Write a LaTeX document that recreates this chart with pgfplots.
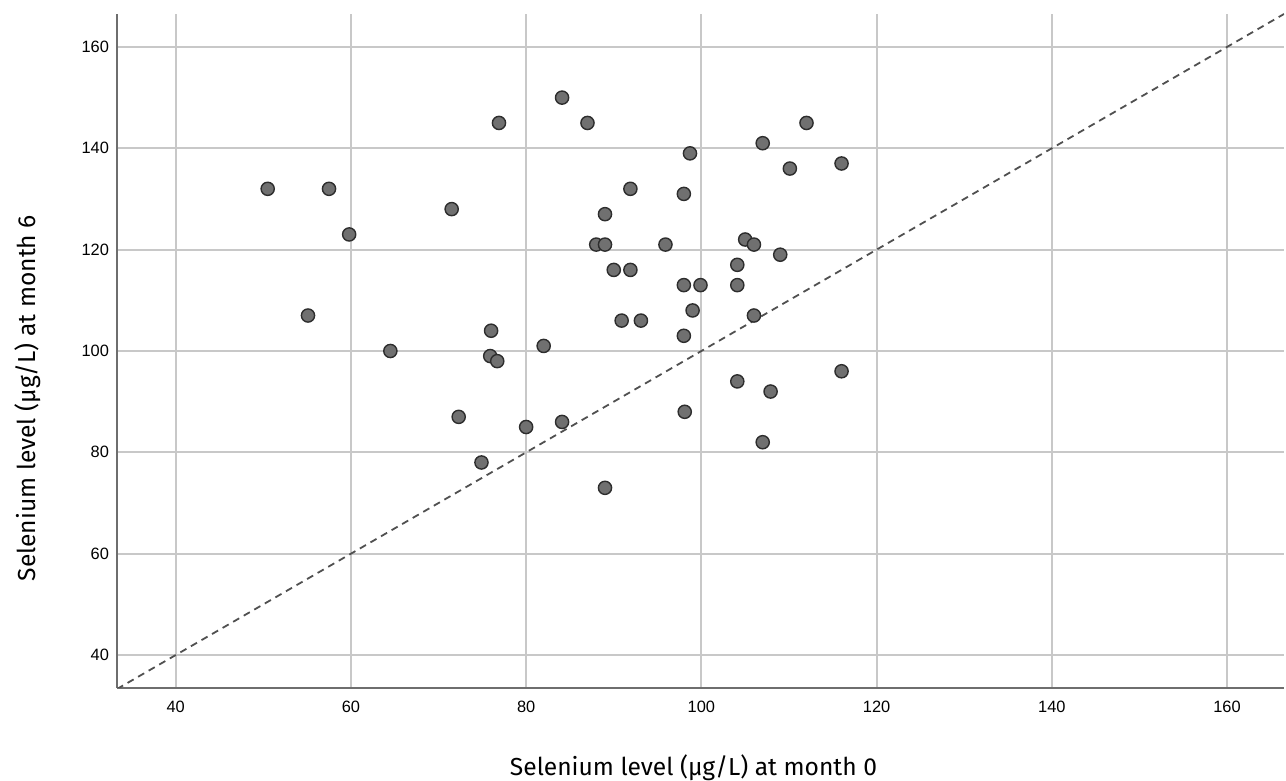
\documentclass[border=0pt]{standalone}
\usepackage{fontspec}
\setmainfont{Liberation Sans}
\newfontfamily\labelfont{Fira Sans}
\usepackage{pgfplots}
\pgfplotsset{compat=1.18}
\definecolor{gridgray}{RGB}{200,200,200}
\definecolor{axisgray}{RGB}{110,110,110}
\definecolor{dotfill}{RGB}{112,112,112}
\definecolor{dotedge}{RGB}{45,45,45}
\definecolor{diaggray}{RGB}{80,80,80}

\pgfplotstableread{
x y
50.5 132
57.5 132
59.8 123
55.1 107
64.5 100
71.5 128
76.9 145
84.1 150
87.0 145
72.3 87
74.9 78
76.0 104
75.9 99
76.7 98
82.0 101
80.0 85
84.1 86
89.0 73
89.0 127
88.0 121
89.0 121
90.0 116
91.9 132
91.9 116
90.9 106
93.1 106
95.9 121
98.0 131
98.7 139
98.0 113
99.9 113
99.0 108
98.0 103
98.1 88
104.1 117
104.1 113
105.0 122
106.0 121
106.0 107
104.1 94
107.0 141
110.1 136
112.0 145
109.0 119
107.9 92
107.0 82
116.0 137
116.0 96
}\seldata

\begin{document}
\begin{tikzpicture}
\useasboundingbox (-58.5pt,-46.5pt) rectangle (584.5pt,344pt);
\begin{axis}[
    at={(0,0)}, anchor=south west,
    scale only axis,
    width=583.5pt, height=337pt,
    xmin=33.3, xmax=166.5,
    ymin=33.5, ymax=166.5,
    xtick={40,60,...,160},
    ytick={40,60,...,160},
    axis x line*=bottom,
    axis y line*=left,
    axis line style={axisgray, line width=0.8pt},
    major tick length=0pt,
    grid=major,
    major grid style={gridgray, line width=0.9pt},
    tick label style={font=\fontsize{8.2}{9}\selectfont, text=black},
    /pgf/number format/assume math mode=true,
    xticklabel style={yshift=-3pt},
    yticklabel style={xshift=-0.5pt},
    xlabel={Selenium level (µg/L) at month 0},
    ylabel={Selenium level (µg/L) at month 6},
    label style={font=\labelfont\fontsize{12.3}{14}\selectfont},
    xlabel style={at={(axis description cs:0.494,-0.1187)}, anchor=center},
    ylabel style={at={(axis description cs:-0.0763,0.43)}, anchor=center},
    clip=true,
]
\addplot[diaggray, line width=0.9pt, dash pattern=on 3.5pt off 2.6pt] coordinates {(33.3,33.3) (166.5,166.5)};
\addplot[only marks, mark=*, mark size=3.3pt,
    mark options={fill=dotfill, draw=dotedge, line width=0.7pt}] table[x=x,y=y] {\seldata};
\end{axis}
\end{tikzpicture}
\end{document}
